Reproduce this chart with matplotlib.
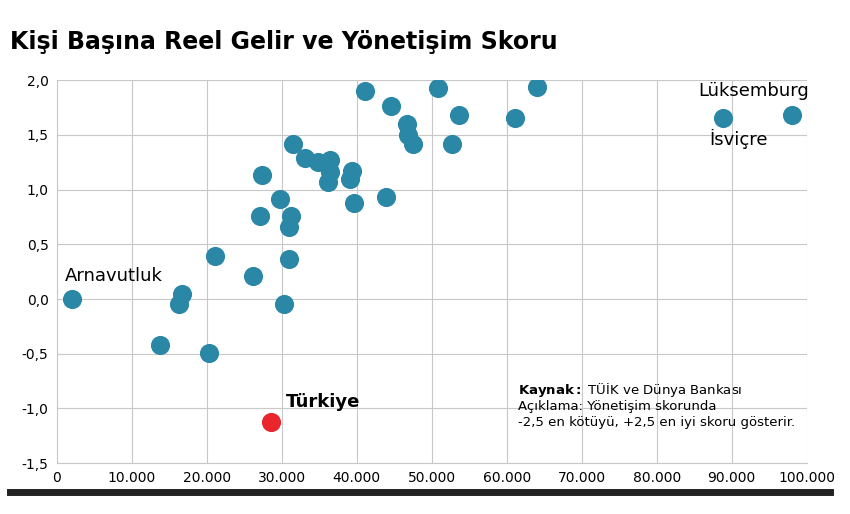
import matplotlib
matplotlib.use("Agg")
import matplotlib.pyplot as plt
from matplotlib.ticker import FuncFormatter
from matplotlib.lines import Line2D

plt.rcParams['font.family'] = ['DejaVu Sans']

income = [2000,13700,16300,16700,20300,21100,26100,27100,27300,29700,30300,30900,30900,31200,31500,
          33100,34800,36100,36400,36400,39100,39300,39600,41100,43900,44500,46700,46800,47500,50800,
          52700,53600,61100,64000,88800,98100]
score = [0.0,-0.42,-0.05,0.05,-0.49,0.39,0.21,0.76,1.13,0.91,-0.05,0.37,0.66,0.76,1.42,
         1.29,1.25,1.07,1.27,1.16,1.10,1.17,0.88,1.90,0.93,1.76,1.60,1.50,1.42,1.93,
         1.42,1.68,1.65,1.94,1.65,1.68]
tr_income, tr_score = [28500], [-1.12]

fig = plt.figure(figsize=(8.5, 5.14), dpi=100)
ax = fig.add_axes([0.067, 0.099, 0.882, 0.745])
ax.scatter(income, score, s=190, color='#2b87a6', zorder=3, linewidths=0)
ax.scatter(tr_income, tr_score, s=190, color='#e8262b', zorder=3, linewidths=0)
ax.set_xlim(0, 100000)
ax.set_ylim(-1.5, 2.0)
ax.set_xticks(range(0, 100001, 10000))
ax.set_yticks([-1.5,-1.0,-0.5,0,0.5,1.0,1.5,2.0])
ax.xaxis.set_major_formatter(FuncFormatter(lambda v, p: f"{int(v):,}".replace(",", ".")))
ax.yaxis.set_major_formatter(FuncFormatter(lambda v, p: f"{v:.1f}".replace(".", ",")))
ax.grid(True, color='#c8c8c8', lw=0.8)
ax.set_axisbelow(True)
for s in ['top', 'right']:
    ax.spines[s].set_visible(False)
ax.spines['left'].set_color('#c8c8c8')
ax.spines['bottom'].set_color('#c8c8c8')
ax.tick_params(length=0, labelsize=10, pad=6)

ax.text(1000, 0.13, "Arnavutluk", fontsize=13, va='bottom')
ax.text(87000, 1.37, "İsviçre", fontsize=13, va='bottom')
ax.text(85500, 1.82, "Lüksemburg", fontsize=13, va='bottom')
ax.text(30500, -1.02, "Türkiye", fontsize=13, fontweight='bold', va='bottom')

ax.text(61500, -0.75, r"$\bf{Kaynak:}$ TÜİK ve Dünya Bankası", fontsize=9.5, va='top')
ax.text(61500, -0.92, "Açıklama: Yönetişim skorunda\n-2,5 en kötüyü, +2,5 en iyi skoru gösterir.",
        fontsize=9.5, va='top', linespacing=1.35)

fig.text(0.012, 0.918, "Kişi Başına Reel Gelir ve Yönetişim Skoru", fontsize=17, fontweight='bold', va='center')
fig.add_artist(Line2D([0.012, 0.976], [0.042, 0.042], color='#222222', lw=5, transform=fig.transFigure))
fig.savefig("out.png", dpi=100)
